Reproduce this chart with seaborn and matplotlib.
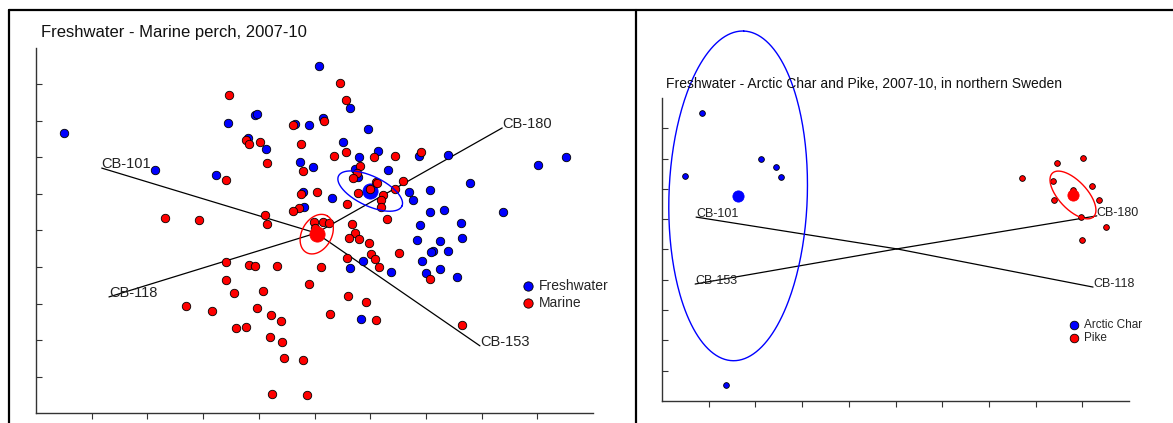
import numpy as np
import pandas as pd
import seaborn as sns
import matplotlib.pyplot as plt
from matplotlib.lines import Line2D

# ---- left panel: freshwater vs marine perch (score plot, axis units 0-10)
fresh_x = [0.50, 2.14, 3.23, 3.45, 3.81, 3.93, 3.97, 4.13, 4.65, 4.90, 4.74, 4.97,
           4.79, 4.81, 5.08, 5.15, 5.64, 5.96, 5.51, 5.80, 6.14, 6.88, 7.40, 5.73,
           5.78, 6.32, 9.01, 9.52, 5.31, 6.70, 6.77, 7.07, 7.79, 7.07, 7.32, 8.38,
           6.89, 7.63, 6.84, 7.25, 7.65, 7.13, 7.09, 7.40, 6.93, 5.87, 5.64, 6.37,
           7.00, 7.25, 7.56, 5.83]
fresh_y = [7.67, 6.66, 6.52, 7.95, 7.53, 8.16, 8.19, 7.23, 7.92, 7.89, 6.88, 6.74,
           6.05, 5.64, 9.51, 8.08, 8.36, 7.78, 7.42, 7.01, 7.18, 7.04, 7.07, 6.68,
           6.47, 6.66, 6.79, 7.01, 5.89, 6.05, 5.84, 6.11, 6.30, 5.51, 5.56, 5.51,
           5.15, 5.21, 4.74, 4.71, 4.79, 4.44, 4.41, 4.44, 4.16, 4.16, 3.97, 3.86,
           3.84, 3.95, 3.73, 2.58]
marine_x = [3.47, 5.46, 5.57, 4.61, 5.17, 3.77, 3.82, 4.02, 4.76, 5.57, 5.35, 6.07,
            6.45, 6.91, 4.15, 4.79, 5.82, 5.76, 5.69, 6.10, 3.41, 4.76, 5.04, 4.72,
            4.61, 4.11, 2.32, 2.93, 4.15, 5.78, 6.00, 6.12, 6.23, 6.19, 6.19, 6.45,
            6.59, 5.58, 6.30, 4.99, 5.15, 5.26, 5.01, 5.67, 5.73, 5.62, 5.80, 5.98,
            6.01, 6.09, 6.16, 5.58, 5.12, 3.41, 3.82, 3.93, 4.33, 3.41, 4.90, 4.08,
            3.55, 5.60, 5.92, 3.97, 3.16, 2.69, 4.22, 4.40, 3.59, 3.77, 4.20, 4.42,
            4.45, 4.79, 4.24, 4.87, 6.52, 7.07, 5.28, 6.10, 7.65]
marine_y = [8.71, 9.04, 8.58, 7.89, 8.00, 7.48, 7.37, 7.42, 7.37, 7.15, 7.04, 7.01,
            7.04, 7.15, 6.85, 6.63, 6.77, 6.58, 6.44, 6.33, 6.38, 6.00, 6.05, 5.62,
            5.53, 5.42, 5.34, 5.29, 5.18, 6.03, 6.14, 6.30, 5.97, 5.84, 5.64, 6.14,
            6.36, 5.73, 5.32, 5.23, 5.23, 5.21, 5.07, 5.18, 4.93, 4.79, 4.77, 4.66,
            4.36, 4.22, 4.00, 4.25, 4.00, 4.14, 4.05, 4.03, 4.03, 3.64, 3.53, 3.34,
            3.29, 3.21, 3.04, 2.88, 2.79, 2.93, 2.68, 2.52, 2.33, 2.36, 2.08, 1.95,
            1.51, 1.45, 0.52, 0.49, 4.38, 3.67, 2.71, 2.55, 2.41]
perch_groups = ['Freshwater', 'Marine']
perch_mean_x = [6.00, 5.04]
perch_mean_y = [6.08, 4.90]
# ellipse half-axis vectors (data units) per group
perch_ell_major = [(0.57, -0.41), (0.19, 0.50)]
perch_ell_minor = [(-0.11, -0.37), (0.23, -0.21)]
perch_origin = (5.03, 4.93)
perch_loadings = ['CB-101', 'CB-118', 'CB-153', 'CB-180']
perch_load_x = [1.18, 1.31, 7.97, 8.37]
perch_load_y = [6.71, 3.18, 1.84, 7.81]

# ---- right panel: arctic char vs pike
char_x = [0.86, 0.49, 2.12, 2.44, 2.55, 1.37]
char_y = [9.50, 7.43, 7.99, 7.72, 7.39, 0.53]
pike_x = [8.46, 9.01, 7.71, 8.37, 9.21, 8.80, 8.39, 9.36, 8.97, 9.51, 8.99]
pike_y = [7.85, 8.02, 7.36, 7.26, 7.10, 6.96, 6.63, 6.63, 6.07, 5.74, 5.31]
north_groups = ['Arctic Char', 'Pike']
north_mean_x = [1.63, 8.80]
north_mean_y = [6.77, 6.80]
north_ell_major = [(0.12, 5.44), (0.44, -0.72)]
north_ell_minor = [(1.48, -0.08), (-0.22, -0.32)]
north_origin = (5.03, 5.02)
north_loadings = ['CB-101', 'CB-153', 'CB-180', 'CB-118']
north_load_x = [0.73, 0.71, 9.31, 9.23]
north_load_y = [6.07, 3.86, 6.11, 3.76]

colors = ['blue', 'red']

sns.set_style('white')
plt.rcParams['font.family'] = ['Liberation Sans', 'DejaVu Sans']

W, H = 1173, 423
fig = plt.figure(figsize=(W / 100, H / 100), dpi=100)
ax1 = fig.add_axes([36 / W, 1 - 413 / H, 557 / W, 365 / H])
ax2 = fig.add_axes([662 / W, 1 - 401 / H, 467 / W, 303 / H])


def draw_panel(ax, groups, xs, ys, mx, my, ell_a, ell_b, origin, names, lx, ly,
               s_pt, s_mean, lab_size):
    t = np.linspace(0, 2 * np.pi, 300)
    for i, g in enumerate(groups):
        sns.scatterplot(x=xs[i], y=ys[i], color=colors[i], s=s_pt, edgecolor='black',
                        linewidth=0.6, label=g, ax=ax, zorder=3, clip_on=False)
        sns.scatterplot(x=[mx[i]], y=[my[i]], color=colors[i], s=s_mean,
                        edgecolor=colors[i], linewidth=0.6, legend=False, ax=ax,
                        zorder=3, clip_on=False)
        ex = mx[i] + ell_a[i][0] * np.cos(t) + ell_b[i][0] * np.sin(t)
        ey = my[i] + ell_a[i][1] * np.cos(t) + ell_b[i][1] * np.sin(t)
        ax.plot(ex, ey, color=colors[i], lw=1.0, zorder=4, clip_on=False)
    for n, x, y in zip(names, lx, ly):
        ax.plot([origin[0], x], [origin[1], y], color='black', lw=0.9, zorder=2)
        ax.text(x, y, n, ha='left', va='baseline', fontsize=lab_size, color='#222222',
                zorder=5)
    ax.set_xlim(0, 10)
    ax.set_ylim(0, 10)
    ax.set_xticks(range(1, 10))
    ax.set_yticks(range(1, 10))
    ax.set_xticklabels([])
    ax.set_yticklabels([])
    ax.tick_params(axis='x', direction='out', length=4, width=0.8, color='#333333')
    ax.tick_params(axis='y', direction='in', length=4, width=0.8, color='#333333')
    ax.tick_params(bottom=True, left=True)
    for side in ['top', 'right']:
        ax.spines[side].set_visible(False)
    for side in ['left', 'bottom']:
        ax.spines[side].set_color('#333333')
        ax.spines[side].set_linewidth(1.0)
    ax.set_xlabel('')
    ax.set_ylabel('')


draw_panel(ax1, perch_groups, [fresh_x, marine_x], [fresh_y, marine_y],
           perch_mean_x, perch_mean_y, perch_ell_major, perch_ell_minor,
           perch_origin, perch_loadings, perch_load_x, perch_load_y, 37, 120, 10.5)
draw_panel(ax2, north_groups, [char_x, pike_x], [char_y, pike_y],
           north_mean_x, north_mean_y, north_ell_major, north_ell_minor,
           north_origin, north_loadings, north_load_x, north_load_y, 17, 65, 9)

h, l = ax1.get_legend_handles_labels()
ax1.legend(h, l, loc='center left', bbox_to_anchor=(0.86, 0.325), frameon=False,
           fontsize=10, handlelength=0.8, handletextpad=0.4, borderpad=0,
           labelspacing=0.2, markerscale=1.1)
h, l = ax2.get_legend_handles_labels()
ax2.legend(h, l, loc='center left', bbox_to_anchor=(0.86, 0.229), frameon=False,
           fontsize=8.5, handlelength=0.8, handletextpad=0.4, borderpad=0,
           labelspacing=0.1, markerscale=1.5)

fig.text(41 / W, 1 - 37 / H, 'Freshwater - Marine perch, 2007-10', fontsize=12,
         ha='left', va='baseline', color='#111111')
fig.text(666 / W, 1 - 88 / H,
         'Freshwater - Arctic Char and Pike, 2007-10, in northern Sweden',
         fontsize=10, ha='left', va='baseline', color='#111111')

# panel frame
for xs_, ys_ in [([9, W], [10, 10]), ([9, 9], [10, H]), ([636, 636], [10, H])]:
    fig.add_artist(Line2D([x / W for x in xs_], [1 - y / H for y in ys_],
                          color='black', lw=1.6))

fig.savefig('out.png', dpi=100)
